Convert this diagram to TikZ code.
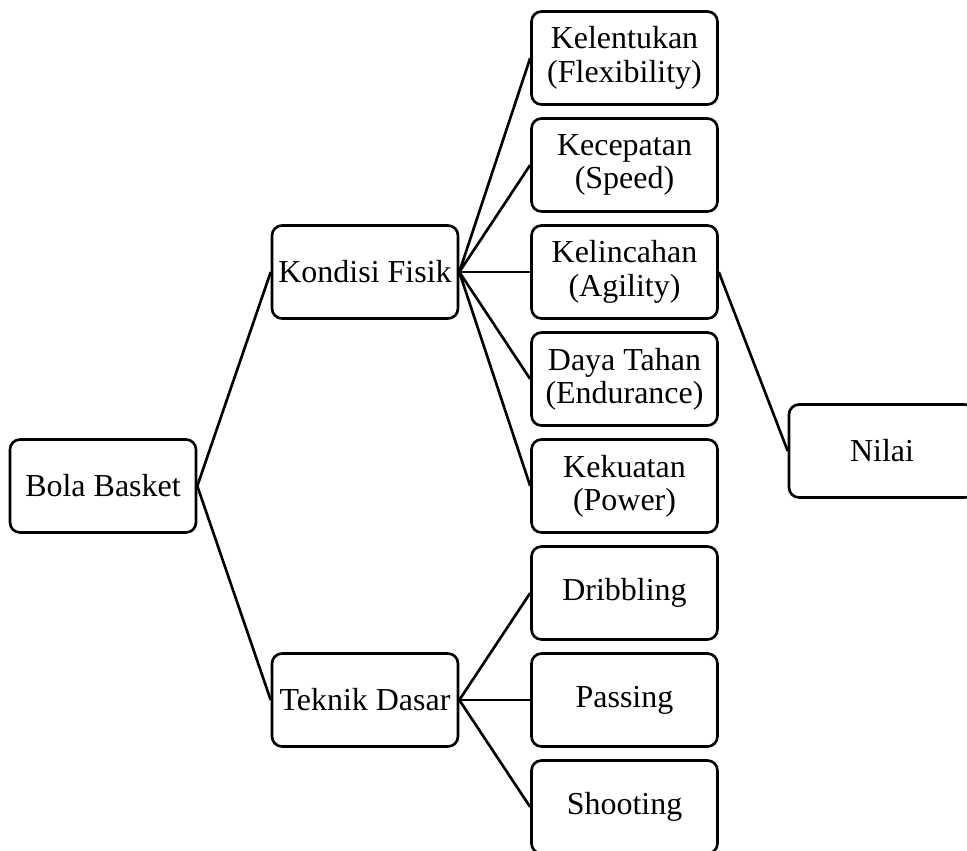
\documentclass[tikz,border=0pt]{standalone}
\usepackage{fontspec}
\setmainfont{Liberation Serif}
\tikzset{box/.style={draw, rounded corners=0.2cm, line width=1.5pt,
   minimum width=3.72cm, minimum height=1.86cm, inner sep=0pt,
   align=center, font=\fontsize{18.2}{19}\selectfont},
 link/.style={line width=1.5pt},
 }

\begin{document}
\begin{tikzpicture}[x=0.02cm, y=-0.02cm]
        \useasboundingbox (0,0) rectangle (967,850);
        \begin{scope}
        \clip (0,0) rectangle (967,850);
        \node[box] (bola) at (103, 486) {Bola Basket};
        \node[box] (kondisi) at (365, 272) {Kondisi Fisik};
        \node[box] (teknik) at (365, 700) {Teknik Dasar};
        \node[box] (kelentukan) at (624.5, 58) {Kelentukan\\(Flexibility)};
        \node[box] (kecepatan) at (624.5, 165) {Kecepatan\\(Speed)};
        \node[box] (kelincahan) at (624.5, 272) {Kelincahan\\(Agility)};
        \node[box] (dayatahan) at (624.5, 379) {Daya Tahan\\(Endurance)};
        \node[box] (kekuatan) at (624.5, 486) {Kekuatan\\(Power)};
        \node[box] (dribbling) at (624.5, 593) {Dribbling};
        \node[box] (passing) at (624.5, 700) {Passing};
        \node[box] (shooting) at (624.5, 807) {Shooting};
        \node[box] (nilai) at (882, 451) {Nilai};
        \draw[link] (bola.east) -- (kondisi.west);
        \draw[link] (bola.east) -- (teknik.west);
        \foreach \n in {kelentukan, kecepatan, kelincahan, dayatahan, kekuatan}
            \draw[link] (kondisi.east) -- (\n.west);
        \foreach \n in {dribbling, passing, shooting}
            \draw[link] (teknik.east) -- (\n.west);
        \draw[link] (kelincahan.east) -- (nilai.west);
        \end{scope}
    \end{tikzpicture}
\end{document}
